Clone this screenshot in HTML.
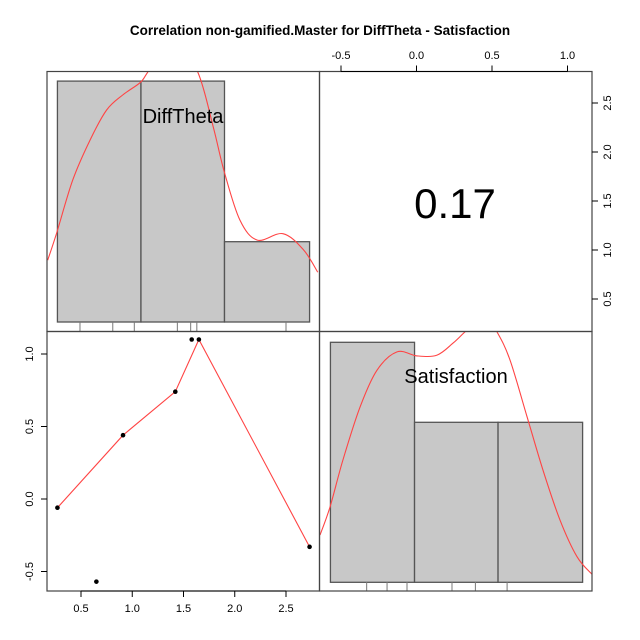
<!DOCTYPE html>
<html><head><meta charset="utf-8"><style>
body{margin:0;background:#fff}
svg{display:block;font-family:"Liberation Sans",Arial,sans-serif}
</style></head><body>
<svg id="c" width="640" height="640" viewBox="0 0 640 640">
<text x="320" y="35" text-anchor="middle" font-weight="bold" font-size="13.5">Correlation non-gamified.Master for DiffTheta - Satisfaction</text>
</svg>
<script>
// ---- data ----
const diffX = [0.27, 0.65, 0.91, 1.42, 1.58, 1.65, 2.73];
const satY = [-0.06, -0.57, 0.44, 0.74, 1.1, 1.1, -0.33];
const smoothX = [0.27, 0.91, 1.42, 1.65, 2.73];
const smoothY = [-0.06, 0.44, 0.74, 1.1, -0.33];
const diffBreaks = [0.27, 1.085, 1.9, 2.73];
const diffCounts = [3, 3, 1];
const satBreaks = [-0.57, -0.013, 0.54, 1.1];
const satCounts = [3, 2, 2];
const diffRug = [0.49, 0.81, 1.02, 1.44, 1.57, 1.63, 2.50];
const satRug = [-0.33, -0.195, -0.063, 0.235, 0.39, 0.60];
const diffDensX = [0.175,0.263,0.42,0.59,0.75,0.91,1.076,1.15,1.4,1.64,1.79,1.90,2.05,2.22,2.47,2.67,2.81];
const diffDensY = [0.77,1.11,1.77,2.27,2.64,2.83,2.98,3.11,3.6,3.11,2.43,1.86,1.27,1.02,1.10,0.90,0.62];
const satDensX = [-0.639,-0.573,-0.487,-0.374,-0.262,-0.129,0.003,0.136,0.242,0.321,0.45,0.533,0.619,0.732,0.838,0.950,1.063,1.162];
const satDensY = [0.59,0.94,1.53,2.19,2.65,2.88,2.83,2.84,2.99,3.13,3.35,3.13,2.78,2.07,1.40,0.78,0.32,0.10];
const corrLabel = "0.17";
const xTicksDiff = [0.5, 1.0, 1.5, 2.0, 2.5];
const yTicksSat = [-0.5, 0.0, 0.5, 1.0];
const topTicks = [-0.5, 0.0, 0.5, 1.0];
const rightTicks = [0.5, 1.0, 1.5, 2.0, 2.5];

// ---- scales ----
const L=47, M=319.5, R=592, T=71.5, MY=331.5, B=591;
const xD = v => 81 + (v-0.5)*102.5;
const yS = v => 499 - v*145;
const xS = v => 416.5 + v*151;
const cD = c => 322 - c*80.3;
const cS = c => 582.3 - c*80;
const yR = v => 299 - (v-0.5)*98;

const svg = document.getElementById('c');
const NS = 'http://www.w3.org/2000/svg';
function mk(tag, attrs, parent){const e=document.createElementNS(NS,tag);for(const k in attrs)e.setAttribute(k,attrs[k]);(parent||svg).appendChild(e);return e;}
function smooth(pts){
  let d='M'+pts[0][0]+','+pts[0][1];
  for(let i=0;i<pts.length-1;i++){
    const p0=pts[Math.max(i-1,0)],p1=pts[i],p2=pts[i+1],p3=pts[Math.min(i+2,pts.length-1)];
    d+='C'+(p1[0]+(p2[0]-p0[0])/6)+','+(p1[1]+(p2[1]-p0[1])/6)+' '+(p2[0]-(p3[0]-p1[0])/6)+','+(p2[1]-(p3[1]-p1[1])/6)+' '+p2[0]+','+p2[1];
  }
  return d;
}

const defs = mk('defs',{});
const c1 = mk('clipPath',{id:'cTL'},defs); mk('rect',{x:L,y:T,width:M-L,height:MY-T},c1);
const c2 = mk('clipPath',{id:'cBR'},defs); mk('rect',{x:M,y:MY,width:R-M,height:B-MY},c2);

// top-left histogram
diffCounts.forEach((c,i)=>{
  const r = mk('rect',{x:xD(diffBreaks[i]),y:cD(c),width:xD(diffBreaks[i+1])-xD(diffBreaks[i]),height:cD(0)-cD(c),fill:'#c8c8c8',stroke:'#555','stroke-width':1.3});
  
  
});
diffRug.forEach(v=>{
  const l = mk('line',{x1:xD(v),x2:xD(v),y1:322,y2:MY,stroke:'#777','stroke-width':1});
  
  
});
const dd = mk('path',{d:smooth(diffDensX.map((v,i)=>[xD(v),cD(diffDensY[i])])),fill:'none',stroke:'#f44','stroke-width':1.1,'clip-path':'url(#cTL)'});


const t1 = mk('text',{x:183,y:123,'text-anchor':'middle','font-size':20});
t1.textContent='DiffTheta';



// bottom-right histogram
satCounts.forEach((c,i)=>{
  const r = mk('rect',{x:xS(satBreaks[i]),y:cS(c),width:xS(satBreaks[i+1])-xS(satBreaks[i]),height:cS(0)-cS(c),fill:'#c8c8c8',stroke:'#555','stroke-width':1.3});
  
  
});
satRug.forEach(v=>{
  const l = mk('line',{x1:xS(v),x2:xS(v),y1:582,y2:B,stroke:'#777','stroke-width':1});
  
  
});
const sd = mk('path',{d:smooth(satDensX.map((v,i)=>[xS(v),cS(satDensY[i])])),fill:'none',stroke:'#f44','stroke-width':1.1,'clip-path':'url(#cBR)'});


const t2 = mk('text',{x:456,y:383,'text-anchor':'middle','font-size':20});
t2.textContent='Satisfaction';



// scatter
const sl = mk('path',{d:smoothX.map((v,i)=>(i?'L':'M')+xD(v)+','+yS(smoothY[i])).join(''),fill:'none',stroke:'#f44','stroke-width':1.1});


diffX.forEach((v,i)=>{
  const p = mk('circle',{cx:xD(v),cy:yS(satY[i]),r:2.3,fill:'#000'});
  
  
});

// correlation
const t3 = mk('text',{x:455,y:218,'text-anchor':'middle','font-size':42});
t3.textContent=corrLabel;



// panel borders
[[L,T,M-L,MY-T],[M,T,R-M,MY-T],[L,MY,M-L,B-MY],[M,MY,R-M,B-MY]].forEach(b=>{
  const r = mk('rect',{x:b[0],y:b[1],width:b[2],height:b[3],fill:'none',stroke:'#444','stroke-width':1.2});
  
  
});

// axes
function tick(x1,y1,x2,y2,name){const l=mk('line',{x1,y1,x2,y2,stroke:'#000','stroke-width':1});}
function lbl(x,y,s,rot,name){const t=mk('text',{x,y,'text-anchor':'middle','font-size':11});if(rot)t.setAttribute('transform','rotate('+rot+' '+x+' '+y+')');t.textContent=s;}
tick(xD(xTicksDiff[0]),B,xD(xTicksDiff[xTicksDiff.length-1]),B,'x-axis-line');
xTicksDiff.forEach(v=>{tick(xD(v),B,xD(v),B+6,'x-axis-tick');lbl(xD(v),612,v.toFixed(1),0,'x-axis-tick-label');});
yTicksSat.forEach(v=>{tick(L,yS(v),L-6,yS(v),'y-axis-tick');lbl(33,yS(v),v.toFixed(1),-90,'y-axis-tick-label');});
tick(xS(topTicks[0]),T,xS(topTicks[topTicks.length-1]),T,'top-axis-line');
topTicks.forEach(v=>{tick(xS(v),T,xS(v),T-6,'top-axis-tick');lbl(xS(v),59,v.toFixed(1),0,'top-axis-tick-label');});
rightTicks.forEach(v=>{tick(R,yR(v),R+6,yR(v),'right-axis-tick');lbl(611,yR(v),v.toFixed(1),-90,'right-axis-tick-label');});
</script>
</body></html>
